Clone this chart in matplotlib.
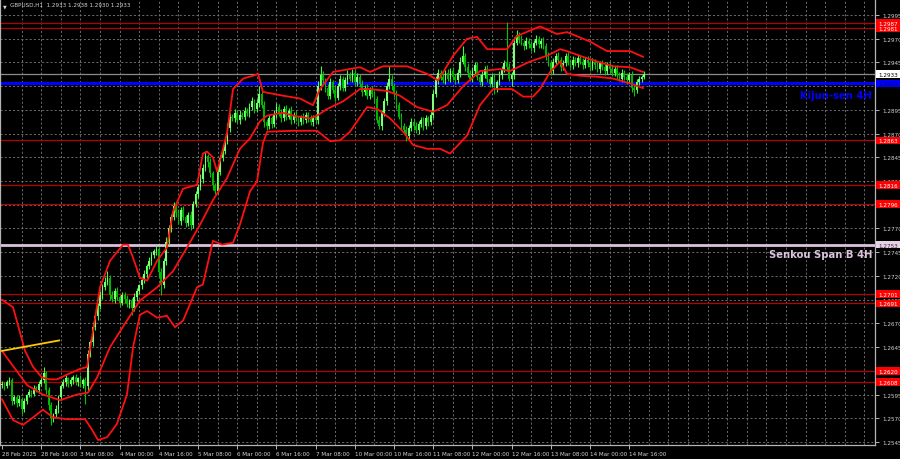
import matplotlib
matplotlib.use("Agg")
import matplotlib.pyplot as plt
from matplotlib import font_manager as fm
from matplotlib.patches import Rectangle
from matplotlib.transforms import blended_transform_factory
import numpy as np

# ---------------- data (prices in pips above 1.2500) ----------------
first_open = 105
closes = [
    106, 104, 108, 110, 88, 92, 86, 90, 80, 88,
    94, 98, 96, 102, 100, 106, 110, 118, 100, 84,
    70, 74, 80, 92, 104, 108, 112, 106, 110, 114,
    108, 112, 106, 110, 104, 138, 150, 166, 178, 188,
    200, 208, 214, 218, 200, 196, 204, 198, 192, 200,
    196, 190, 194, 186, 198, 204, 210, 216, 222, 230,
    236, 242, 246, 248, 224, 210, 236, 256, 270, 282,
    294, 286, 278, 290, 282, 276, 284, 274, 296, 306,
    314, 322, 334, 346, 340, 328, 316, 310, 330, 344,
    352, 362, 376, 388, 386, 392, 384, 390, 388, 394,
    392, 398, 404, 396, 402, 412, 400, 382, 378, 386,
    380, 390, 398, 392, 386, 396, 388, 394, 384, 390,
    386, 382, 388, 384, 390, 386, 382, 388, 384, 420,
    432, 426, 418, 410, 424, 416, 408, 420, 428, 418,
    426, 432, 428, 434, 424, 430, 422, 414, 418, 410,
    416, 412, 406, 384, 378, 392, 404, 420, 428, 420,
    412, 400, 388, 378, 374, 368, 376, 382, 378, 374,
    380, 384, 378, 386, 382, 390, 412, 426, 434, 430,
    426, 434, 428, 436, 430, 426, 434, 446, 452, 440,
    434, 428, 436, 442, 430, 424, 432, 438, 428, 422,
    430, 418, 424, 432, 438, 444, 440, 428, 432, 466,
    474, 470, 466, 462, 468, 464, 460, 466, 470, 464,
    468, 462, 452, 444, 436, 446, 452, 448, 440, 444,
    452, 446, 442, 448, 444, 450, 446, 442, 448, 444,
    440, 446, 442, 438, 444, 440, 436, 442, 438, 434,
    438, 432, 428, 434, 430, 426, 432, 418, 416, 424,
    428, 430, 433,
]
upper_wick = [
    3, 2, 2, 3, 2, 3, 2, 4, 2, 3,
    2, 3, 2, 3, 2, 3, 4, 6, 2, 3,
    3, 2, 4, 3, 2, 3, 4, 2, 3, 2,
    3, 2, 4, 2, 3, 4, 3, 5, 3, 4,
    4, 3, 5, 7, 3, 4, 3, 4, 2, 3,
    3, 4, 2, 3, 4, 3, 2, 3, 4, 3,
    4, 3, 2, 5, 3, 4, 3, 5, 4, 3,
    4, 3, 5, 3, 4, 2, 3, 4, 3, 4,
    3, 5, 4, 6, 3, 4, 3, 2, 4, 3,
    4, 3, 5, 4, 3, 4, 3, 5, 3, 4,
    3, 4, 5, 3, 4, 8, 3, 4, 3, 4,
    3, 5, 4, 3, 4, 3, 4, 3, 5, 3,
    4, 3, 2, 4, 3, 3, 4, 2, 3, 5,
    9, 4, 3, 4, 5, 3, 4, 3, 4, 3,
    4, 5, 3, 4, 3, 4, 3, 4, 3, 4,
    3, 4, 3, 4, 5, 3, 4, 4, 13, 4,
    3, 4, 3, 4, 3, 4, 3, 4, 3, 4,
    3, 4, 3, 4, 3, 4, 4, 5, 4, 3,
    4, 3, 4, 3, 4, 3, 4, 5, 10, 3,
    4, 3, 4, 3, 4, 3, 4, 3, 4, 3,
    3, 4, 3, 4, 3, 4, 44, 4, 3, 6,
    5, 3, 4, 3, 4, 3, 4, 3, 4, 3,
    3, 4, 3, 4, 3, 4, 3, 4, 3, 4,
    3, 4, 3, 4, 3, 4, 3, 4, 3, 4,
    3, 4, 3, 4, 3, 4, 3, 4, 3, 4,
    3, 4, 3, 4, 3, 4, 3, 4, 3, 4,
    3, 2, 3,
]
lower_wick = [
    3, 4, 2, 3, 4, 3, 4, 3, 6, 3,
    3, 2, 4, 3, 2, 3, 2, 3, 4, 5,
    7, 4, 3, 4, 3, 2, 4, 3, 2, 4,
    3, 4, 3, 4, 19, 4, 3, 4, 3, 4,
    3, 4, 3, 4, 5, 3, 4, 3, 4, 3,
    4, 3, 4, 7, 3, 4, 3, 4, 3, 4,
    3, 4, 3, 4, 5, 10, 3, 4, 3, 4,
    3, 4, 3, 4, 3, 4, 3, 6, 4, 3,
    4, 3, 4, 3, 5, 4, 5, 4, 3, 4,
    3, 4, 3, 4, 3, 4, 3, 4, 3, 4,
    3, 4, 3, 4, 3, 4, 3, 5, 4, 3,
    4, 3, 4, 3, 4, 3, 4, 3, 4, 3,
    3, 4, 3, 4, 3, 4, 3, 4, 3, 4,
    4, 3, 4, 3, 4, 3, 4, 3, 4, 3,
    3, 4, 3, 4, 3, 4, 3, 4, 3, 4,
    4, 3, 4, 3, 3, 4, 3, 4, 3, 4,
    3, 4, 3, 4, 3, 6, 4, 3, 4, 3,
    4, 3, 4, 3, 4, 3, 4, 3, 4, 3,
    3, 4, 3, 4, 3, 4, 3, 4, 3, 4,
    4, 3, 4, 3, 4, 3, 4, 3, 4, 3,
    3, 6, 4, 3, 4, 3, 4, 3, 8, 4,
    3, 4, 3, 4, 3, 4, 3, 4, 3, 4,
    4, 3, 4, 3, 4, 3, 4, 3, 4, 3,
    3, 4, 3, 4, 3, 4, 3, 4, 3, 4,
    4, 3, 4, 3, 4, 3, 4, 3, 4, 3,
    3, 4, 3, 4, 3, 4, 3, 4, 6, 3,
    3, 4, 2,
]

# Bollinger band samples (bar index, pips)
upper_bar = [0, 4.5, 9.4, 12.7, 16.3, 19.6, 22.4, 26.5, 31.8, 34.7,
             36.7, 40, 44.1, 49.4, 51.4, 53.5, 56.3, 59.2, 63.3, 67.3,
             69.8, 73.9, 79.6, 82, 83.7, 86.1, 87.8, 91.8, 94.3, 98.4,
             102.4, 104.5, 106.5, 114.7, 121.6, 126.9, 129.8, 135.1, 146.1, 150.2,
             155.5, 165.3, 173.5, 178, 184.1, 189.8, 193.9, 198, 206.1, 210.2,
             219.6, 226.5, 230.6, 240, 246.9, 256.3, 261.6]
upper_pip = [195, 187, 141, 124, 113, 111, 111, 116, 122, 124,
             155, 208, 236, 253, 253, 239, 218, 215, 236, 250,
             288, 312, 316, 349, 351, 345, 330, 370, 417, 428,
             431, 433, 414, 410, 407, 400, 417, 435, 440, 435,
             441, 441, 433, 426, 452, 470, 472, 459, 459, 473,
             483, 475, 477, 467, 457, 457, 451]
mid_bar = [0, 10.2, 16.7, 23.7, 30.6, 35.1, 38.8, 44.1, 51, 56.3,
           63.3, 69.8, 75.5, 80.8, 86.1, 91.8, 97.1, 101.2, 105.3, 108.2,
           114.7, 118.8, 125.7, 128.6, 132.7, 139.2, 146.1, 150.2, 157.1, 162.4,
           169.4, 175.9, 181.6, 188.2, 195.1, 203.3, 207.3, 215.5, 222.4, 227.8,
           230.6, 235.9, 242.9, 249.4, 256.3, 261.6]
mid_pip = [141, 105, 95, 89, 95, 97, 113, 145, 173, 194,
           208, 225, 250, 274, 300, 323, 354, 365, 383, 389,
           392, 389, 386, 389, 396, 404, 417, 417, 415, 410,
           398, 393, 400, 420, 436, 438, 436, 446, 452, 459,
           457, 452, 446, 441, 440, 435]
low_bar = [0, 4.5, 8.6, 12.7, 16.7, 20.8, 26.5, 33.9, 36.7, 39.2,
           42.9, 46.9, 51, 53.5, 56.3, 59.2, 63.3, 67.3, 70.6, 73.9,
           79.6, 82, 86.1, 89.8, 94.3, 97.1, 101.2, 104.1, 106.5, 108.2,
           118.8, 128.6, 133.9, 138, 142, 149, 153.1, 158.4, 163.7, 167.8,
           173.5, 178.8, 182.9, 189.8, 195.1, 200.4, 208.2, 212.7, 216.7, 219.6,
           223.7, 227.8, 230.6, 235.9, 242.9, 249.4, 256.3, 261.6]
low_pip = [90, 68, 63, 71, 79, 71, 69, 69, 58, 47,
           50, 64, 95, 145, 179, 183, 176, 178, 166, 173,
           208, 211, 257, 253, 255, 274, 309, 320, 360, 372,
           373, 373, 362, 363, 372, 398, 396, 386, 372, 358,
           354, 354, 349, 368, 400, 417, 417, 409, 409, 417,
           435, 446, 433, 431, 430, 428, 423, 418]

trend_bar = [0, 23.3]
trend_pip = [141, 152]

red_levels = [1.2987, 1.2981, 1.2863, 1.2816, 1.2796, 1.2701, 1.2691, 1.2620, 1.2608]
kijun = 1.2923
senkou_b = 1.2753
last_price = 1.2933

x_labels = ["28 Feb 2025", "28 Feb 16:00", "3 Mar 08:00", "4 Mar 00:00", "4 Mar 16:00",
            "5 Mar 08:00", "6 Mar 00:00", "6 Mar 16:00", "7 Mar 08:00", "10 Mar 00:00",
            "10 Mar 16:00", "11 Mar 08:00", "12 Mar 00:00", "12 Mar 16:00", "13 Mar 08:00",
            "14 Mar 00:00", "14 Mar 16:00"]
y_ticks = [1.2995, 1.2970, 1.2945, 1.2920, 1.2895, 1.2870, 1.2845, 1.2820, 1.2795, 1.2770,
           1.2745, 1.2720, 1.2695, 1.2670, 1.2645, 1.2620, 1.2595, 1.2570, 1.2545]
header = "GBPUSD,H1  1.2933 1.2938 1.2930 1.2933"


def px(v):
    return 1.25 + np.asarray(v, dtype=float) / 10000.0


def font_ok(fam, stretch, must):
    try:
        path = fm.findfont(fm.FontProperties(family=fam, weight="bold", stretch=stretch),
                           fallback_to_default=False)
    except Exception:
        return False
    return must.lower() in path.lower()


if font_ok("Liberation Sans Narrow", "condensed", "narrow"):
    NARROW = dict(family=["Liberation Sans Narrow", "DejaVu Sans"])
    big_size, small_size = 9.2, 5.2
elif font_ok("DejaVu Sans", "condensed", "condensed"):
    NARROW = dict(family=["DejaVu Sans"], fontstretch="condensed")
    big_size, small_size = 8, 4.5
else:
    NARROW = dict(family=["Liberation Sans", "DejaVu Sans"])
    big_size, small_size = 7, 4.6

# ---------------- figure ----------------
BG = "black"
TXT = "#d2d2d2"
fig = plt.figure(figsize=(9, 4.6), dpi=100, facecolor=BG)
ax = fig.add_axes([0.0, 14 / 460, 875 / 900, 446 / 460], facecolor=BG)

n = len(closes)
idx = np.arange(n)
c = px(closes)
o = px([first_open] + closes[:-1])
hi = np.maximum(o, c) + np.asarray(upper_wick) / 10000.0
lo = np.minimum(o, c) - np.asarray(lower_wick) / 10000.0

ax.set_xlim(-0.82, 356.3)
ax.set_ylim(1.25418, 1.30119)

# grid
for xg in range(8, 357, 8):
    ax.axvline(xg, color="#7a7a7a", lw=0.6, ls=(0, (2.5, 2.5)), zorder=0.5)
for yg in y_ticks:
    ax.axhline(yg, color="#7a7a7a", lw=0.6, ls=(0, (2.5, 2.5)), zorder=0.5)

# horizontal levels
for lv in red_levels:
    ax.axhline(lv, color="#b40000", lw=0.9, zorder=1)
ax.axhline(last_price, color="#8c8c8c", lw=0.9, zorder=1)
ax.axhline(senkou_b, color="#dcc3dc", lw=2.0, zorder=1.2)
ax.axhline(kijun, color="#0000ff", lw=2.2, zorder=1.2)

# candles
up = c >= o
wick_col = np.where(up, "#3cff3c", "#00c800")
ax.vlines(idx, lo, hi, colors=wick_col, lw=0.8, zorder=3)
body_h = np.where(np.abs(c - o) < 0.00005, 0.00005, c - o)
ax.bar(idx[up], body_h[up], bottom=o[up], width=0.7, color="#7cff7c", lw=0, zorder=3.5)
ax.bar(idx[~up], body_h[~up], bottom=o[~up], width=0.7, color="#00b400", lw=0, zorder=3.5)

# Bollinger bands
for bx, by in ((upper_bar, upper_pip), (mid_bar, mid_pip), (low_bar, low_pip)):
    ax.plot(bx, px(by), color="#ff1010", lw=1.3, zorder=4, solid_joinstyle="round")

# yellow trend segment
ax.plot(trend_bar, px(trend_pip), color="#ffc800", lw=1.3, zorder=4)

# axes styling
ax.spines["top"].set_visible(False)
for s in ("left", "bottom", "right"):
    ax.spines[s].set_color("#b4b4b4")
    ax.spines[s].set_linewidth(0.9)

# right price scale: labels hidden where a coloured price box covers them
box_levels = red_levels + [kijun, senkou_b, last_price]
ax.yaxis.tick_right()
ax.set_yticks(y_ticks)
ax.set_yticklabels(["" if min(abs(v - b) for b in box_levels) < 0.00035 else f"{v:.4f}"
                    for v in y_ticks])
ax.tick_params(axis="y", colors=TXT, labelsize=small_size, length=3, width=0.6, pad=2)
ax.set_xticks(np.arange(0, 16 * len(x_labels), 16))
ax.set_xticklabels(x_labels, ha="left")
ax.tick_params(axis="x", colors=TXT, labelsize=small_size, length=3, width=0.6, pad=1.5)
for lab in ax.get_xticklabels() + ax.get_yticklabels():
    lab.set_color(TXT)
    lab.set_family(NARROW["family"])
    if "fontstretch" in NARROW:
        lab.set_stretch(NARROW["fontstretch"])

# right-side price boxes (fixed pixel width)
btr = blended_transform_factory(fig.transFigure, ax.transData)
box_h = 0.00078


def box(price, text, fc, tc):
    fig.add_artist(Rectangle((876 / 900, price - box_h / 2), 24 / 900, box_h,
                             transform=btr, fc=fc, ec="none", zorder=5))
    fig.text(878 / 900, price, text, transform=btr, fontsize=small_size, color=tc,
             va="center_baseline", ha="left", zorder=6, **NARROW)


for lv in red_levels:
    box(lv, f"{lv:.4f}", "#ff0000", "white")
box(last_price, f"{last_price:.4f}", "white", "black")
box(kijun, f"{kijun:.4f}", "#0000ff", "#00006e")
box(senkou_b, f"{senkou_b:.4f}", "#e6d2e6", "#3c283c")

# labels for Ichimoku lines
ytr = ax.get_yaxis_transform()
ax.text(0.9966, 1.29112, "Kijun-sen 4H", transform=ytr, ha="right", va="center",
        color="#0000ff", fontsize=big_size, fontweight="bold", zorder=6, **NARROW)
ax.text(0.9966, 1.27432, "Senkou Span B 4H", transform=ytr, ha="right", va="center",
        color="#dcc3dc", fontsize=big_size, fontweight="bold", zorder=6, **NARROW)

# header
ax.text(0.003, 0.991, "\u25bc", transform=ax.transAxes, fontsize=3.5, color=TXT, va="top", ha="left")
ax.text(0.012, 0.994, header, transform=ax.transAxes, fontsize=small_size, color=TXT,
        va="top", ha="left", **NARROW)

fig.savefig("out.png", dpi=100, facecolor=BG)
